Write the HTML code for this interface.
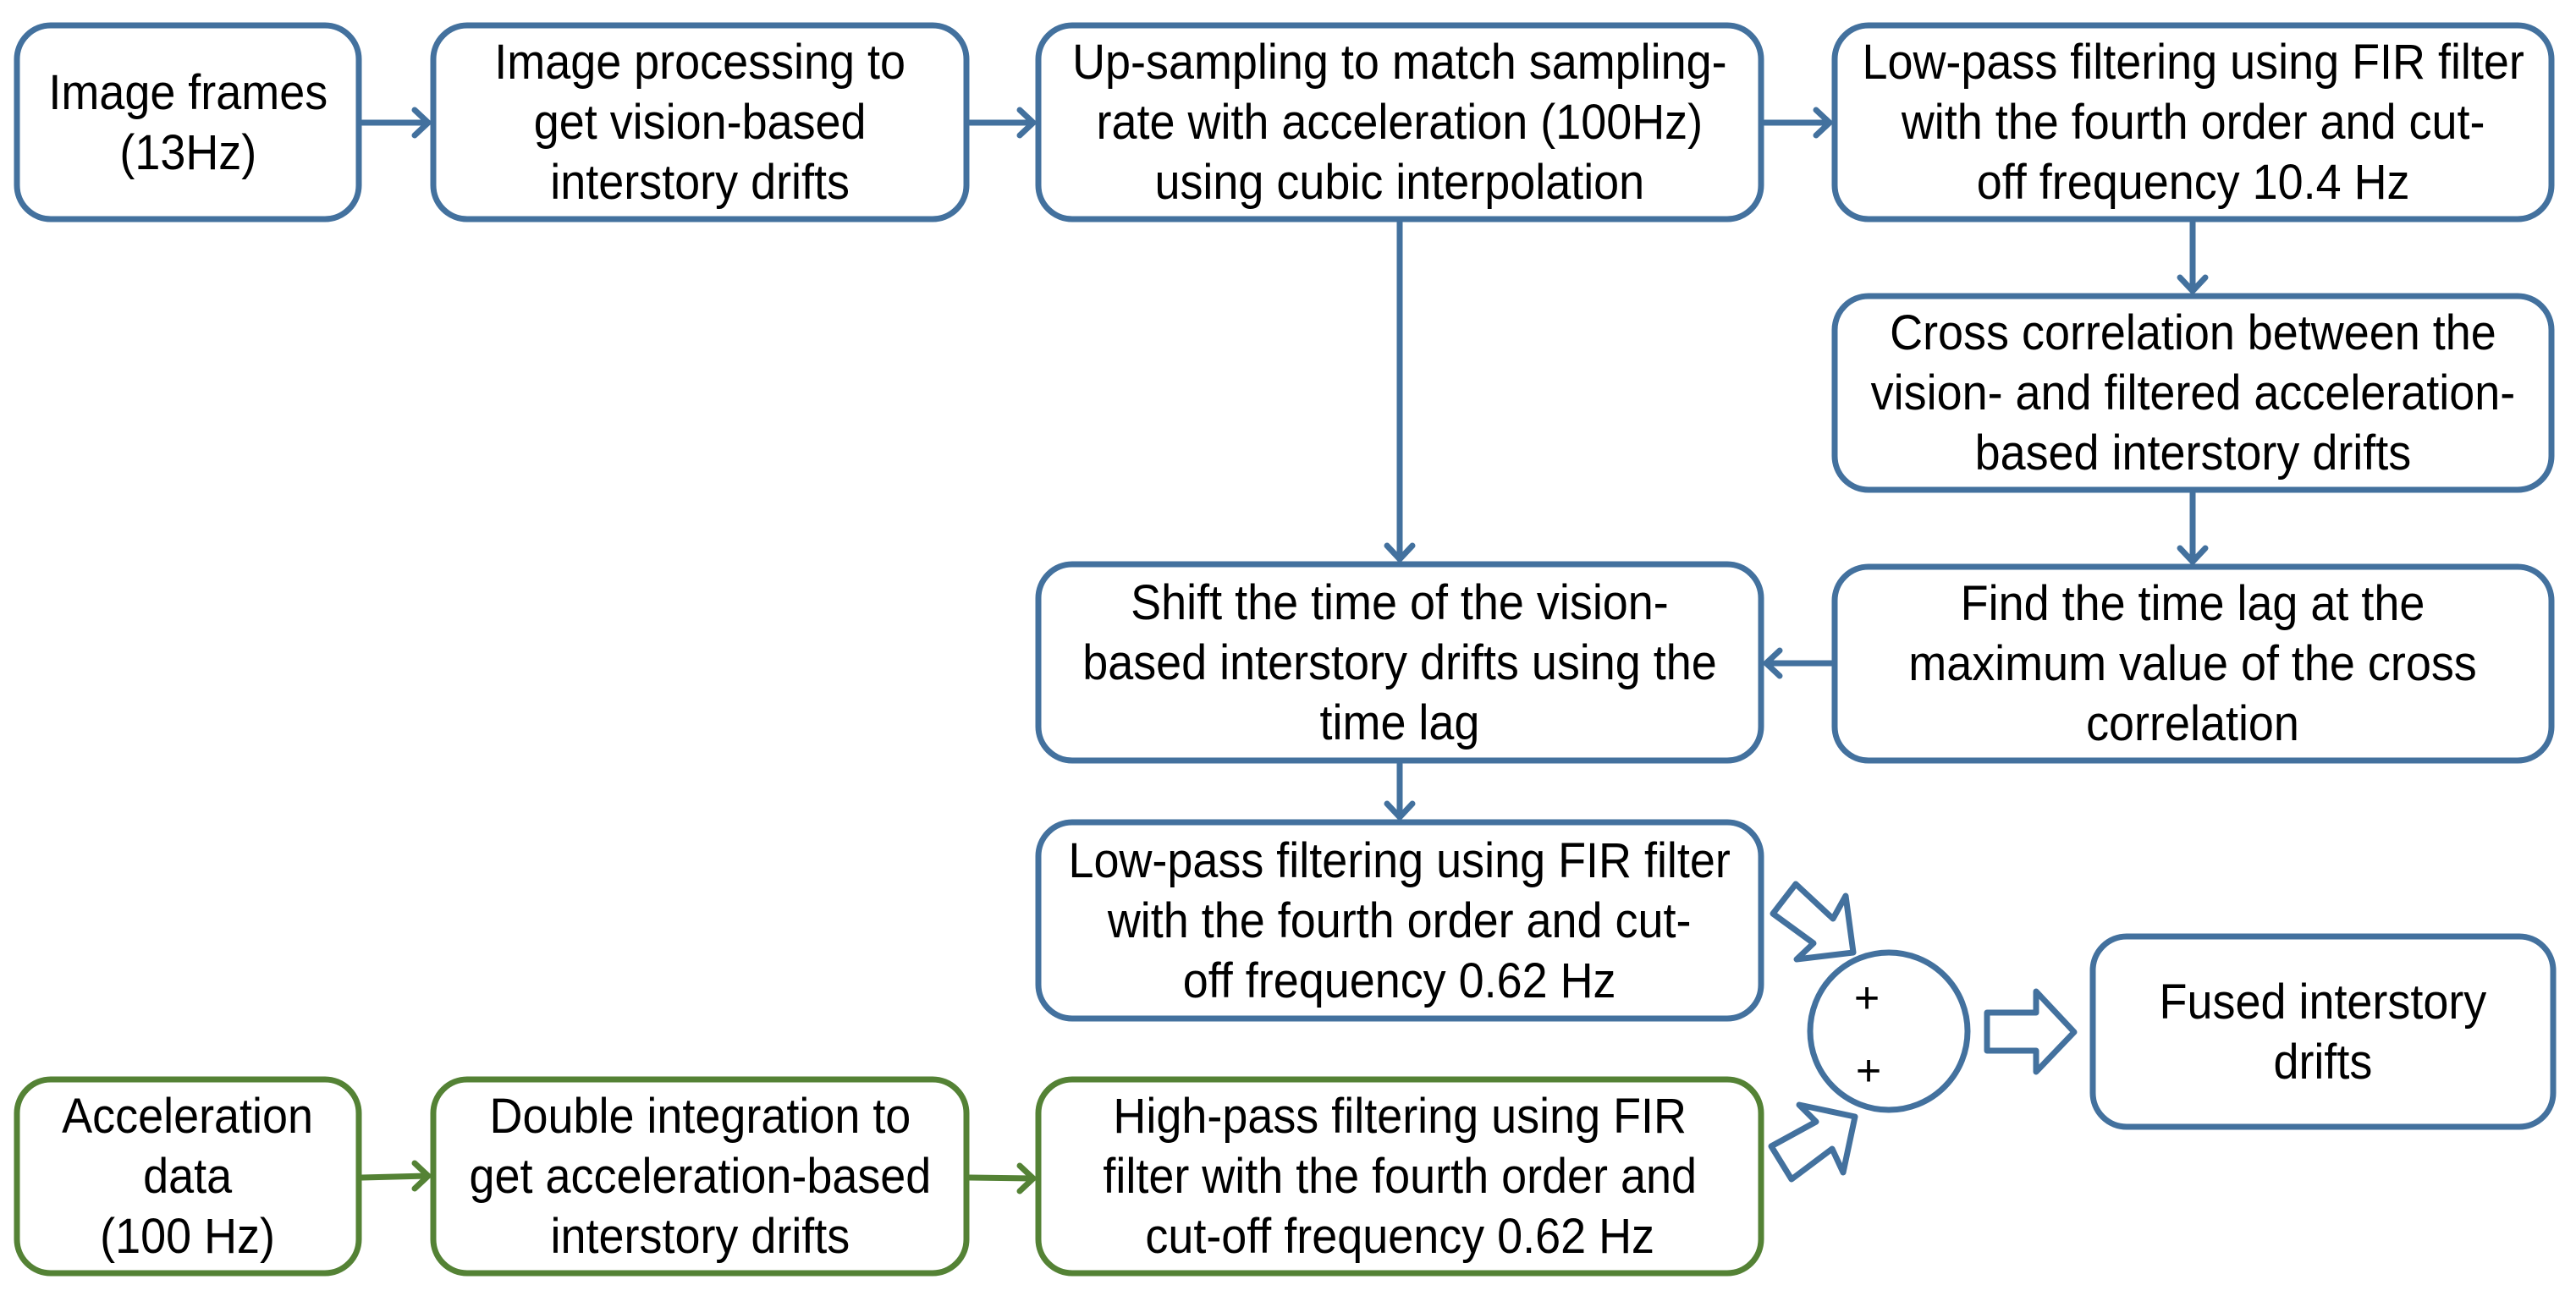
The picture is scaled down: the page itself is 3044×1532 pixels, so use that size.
<!DOCTYPE html>
<html><head><meta charset="utf-8"><style>
html,body{margin:0;padding:0;background:#fff;}
body{width:3044px;height:1532px;position:relative;overflow:hidden;font-family:"Liberation Sans",sans-serif;}
.t{position:absolute;display:flex;align-items:center;justify-content:center;text-align:center;font-size:58px;line-height:71px;color:#000;white-space:nowrap;}
.t span{display:inline-block;transform:scaleX(0.93);}
svg{position:absolute;left:0;top:0;}
</style></head><body>
<svg width="3044" height="1532" viewBox="0 0 3044 1532">
<g fill="#fff" stroke="#43719E" stroke-width="7">
<rect x="20" y="30" width="404" height="229" rx="40"/>
<rect x="512" y="30" width="630" height="229" rx="40"/>
<rect x="1227" y="30" width="854" height="229" rx="40"/>
<rect x="2168" y="30" width="847" height="229" rx="40"/>
<rect x="2168" y="350" width="847" height="229" rx="40"/>
<rect x="2168" y="670" width="847" height="229" rx="40"/>
<rect x="1227" y="667" width="854" height="232" rx="40"/>
<rect x="1227" y="972" width="854" height="232" rx="40"/>
<rect x="2473" y="1107" width="544" height="225" rx="40"/>
<ellipse cx="2232" cy="1219" rx="93" ry="93"/>
</g>
<g fill="#fff" stroke="#548235" stroke-width="7">
<rect x="20" y="1276" width="404" height="229" rx="40"/>
<rect x="512" y="1276" width="630" height="229" rx="40"/>
<rect x="1227" y="1276" width="854" height="229" rx="40"/>
</g>
<g fill="none" stroke="#43719E" stroke-width="7" stroke-linecap="round" stroke-linejoin="round">
<line x1="428" y1="145" x2="505" y2="145"/><polyline points="490,130 506,145 490,160"/>
<line x1="1146" y1="145" x2="1220" y2="145"/><polyline points="1205,130 1221,145 1205,160"/>
<line x1="2085" y1="145" x2="2161" y2="145"/><polyline points="2146,130 2162,145 2146,160"/>
<line x1="2591" y1="263" x2="2591" y2="343"/><polyline points="2576,328 2591,344 2606,328"/>
<line x1="2591" y1="583" x2="2591" y2="663"/><polyline points="2576,648 2591,664 2606,648"/>
<line x1="2164" y1="784" x2="2088" y2="784"/><polyline points="2103,769 2087,784 2103,799"/>
<line x1="1654" y1="263" x2="1654" y2="660"/><polyline points="1639,645 1654,661 1669,645"/>
<line x1="1654" y1="903" x2="1654" y2="965"/><polyline points="1639,950 1654,966 1669,950"/>
<polygon points="2348,1197 2406,1197 2406,1172 2451,1220 2406,1267 2406,1242 2348,1242"/>
<polygon points="2122,1045 2166,1086 2181,1059 2190,1126 2123,1134 2143,1115 2095,1080"/>
<polygon points="2093,1355 2146,1326 2126,1306 2192,1320 2178,1386 2165,1358 2117,1394"/>
</g>
<g fill="none" stroke="#548235" stroke-width="7" stroke-linecap="round" stroke-linejoin="round">
<line x1="428" y1="1392" x2="505" y2="1390"/><polyline points="490,1375 506,1390 490,1405"/>
<line x1="1146" y1="1392" x2="1220" y2="1393"/><polyline points="1205,1378 1221,1393 1205,1408"/>
</g>
</svg>
<div class="t" style="left:20px;top:30px;width:404px;height:229px;"><span>Image frames<br>(13Hz)</span></div>
<div class="t" style="left:512px;top:30px;width:630px;height:229px;"><span>Image processing to<br>get vision-based<br>interstory drifts</span></div>
<div class="t" style="left:1227px;top:30px;width:854px;height:229px;"><span>Up-sampling to match sampling-<br>rate with acceleration (100Hz)<br>using cubic interpolation</span></div>
<div class="t" style="left:2168px;top:30px;width:847px;height:229px;"><span>Low-pass filtering using FIR filter<br>with the fourth order and cut-<br>off frequency 10.4 Hz</span></div>
<div class="t" style="left:2168px;top:350px;width:847px;height:229px;"><span>Cross correlation between the<br>vision- and filtered acceleration-<br>based interstory drifts</span></div>
<div class="t" style="left:2168px;top:670px;width:847px;height:229px;"><span>Find the time lag at the<br>maximum value of the cross<br>correlation</span></div>
<div class="t" style="left:1227px;top:667px;width:854px;height:232px;"><span>Shift the time of the vision-<br>based interstory drifts using the<br>time lag</span></div>
<div class="t" style="left:1227px;top:972px;width:854px;height:232px;"><span>Low-pass filtering using FIR filter<br>with the fourth order and cut-<br>off frequency 0.62 Hz</span></div>
<div class="t" style="left:2473px;top:1107px;width:544px;height:225px;"><span>Fused interstory<br>drifts</span></div>
<div class="t" style="left:20px;top:1276px;width:404px;height:229px;"><span>Acceleration<br>data<br>(100 Hz)</span></div>
<div class="t" style="left:512px;top:1276px;width:630px;height:229px;"><span>Double integration to<br>get acceleration-based<br>interstory drifts</span></div>
<div class="t" style="left:1227px;top:1276px;width:854px;height:229px;"><span>High-pass filtering using FIR<br>filter with the fourth order and<br>cut-off frequency 0.62 Hz</span></div>
<div class="t" style="left:2176px;top:1150px;width:60px;height:60px;font-size:52px;">+</div>
<div class="t" style="left:2178px;top:1236px;width:60px;height:60px;font-size:52px;">+</div>
</body></html>
